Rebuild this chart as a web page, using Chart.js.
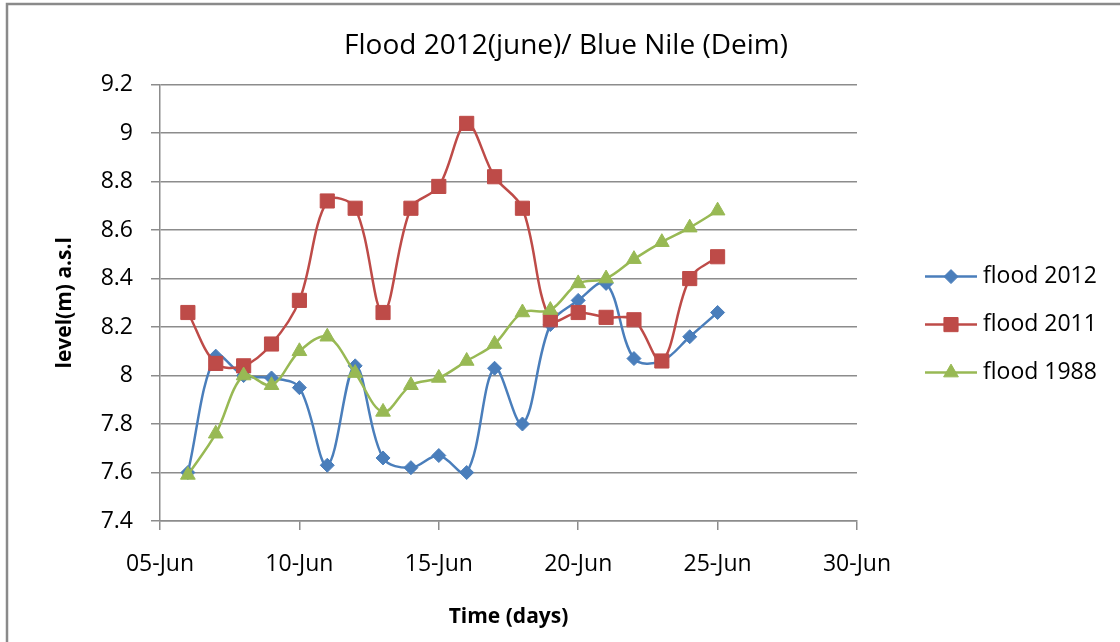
<!DOCTYPE html>
<html>
<head>
<meta charset="utf-8">
<script src="https://cdn.jsdelivr.net/npm/chart.js@4.4.0/dist/chart.umd.min.js"></script>
<style>
  body { margin: 0; background: #fff; }
  #wrap { width: 1120px; height: 642px; }
</style>
</head>
<body>
<div id="wrap"><canvas id="flood-chart" width="1120" height="642"></canvas></div>
<script>
// day of June for each reading
const days = [6, 7, 8, 9, 10, 11, 12, 13, 14, 15, 16, 17, 18, 19, 20, 21, 22, 23, 24, 25];

const flood2012 = [7.60, 8.08, 8.00, 7.99, 7.95, 7.63, 8.04, 7.66, 7.62, 7.67,
                   7.60, 8.03, 7.80, 8.21, 8.31, 8.38, 8.07, 8.06, 8.16, 8.26];
const flood2011 = [8.26, 8.05, 8.04, 8.13, 8.31, 8.72, 8.69, 8.26, 8.69, 8.78,
                   9.04, 8.82, 8.69, 8.23, 8.26, 8.24, 8.23, 8.06, 8.40, 8.49];
const flood1988 = [7.59, 7.76, 8.00, 7.96, 8.10, 8.16, 8.01, 7.85, 7.96, 7.99,
                   8.06, 8.13, 8.26, 8.27, 8.38, 8.40, 8.48, 8.55, 8.61, 8.68];

const xTickDays = [5, 10, 15, 20, 25, 30];
const xTickLabels = ['05-Jun', '10-Jun', '15-Jun', '20-Jun', '25-Jun', '30-Jun'];
const yTickValues = [7.4, 7.6, 7.8, 8.0, 8.2, 8.4, 8.6, 8.8, 9.0, 9.2];
const yTickLabels = ['7.4', '7.6', '7.8', '8', '8.2', '8.4', '8.6', '8.8', '9', '9.2'];

const gridColor = '#8c8c8c';
const font = 'Open Sans';

function toPoints(values) {
  return days.map((d, i) => ({ x: d, y: values[i] }));
}

// frame around the whole chart (Excel style)
const framePlugin = {
  id: 'frame',
  beforeDraw(chart) {
    const ctx = chart.ctx;
    ctx.save();
    ctx.strokeStyle = '#8a8a8a';
    ctx.lineWidth = 2.5;
    ctx.strokeRect(7, 4, 1300, 800);
    ctx.restore();
  }
};

// legend box on the right: line with marker, then the label
const sideLegend = {
  id: 'sideLegend',
  beforeInit(chart) {
    const box = {
      position: 'right',
      weight: 0,
      fullSize: false,
      options: {},
      top: 0, left: 0, right: 0, bottom: 0, width: 0, height: 0,
      isHorizontal() { return false; },
      getPadding() { return { top: 0, left: 0, right: 0, bottom: 0 }; },
      update(maxWidth, maxHeight) {
        this.width = 263;
        this.height = maxHeight;
      },
      draw() {
        const ctx = chart.ctx;
        ctx.save();
        chart.data.datasets.forEach((ds, i) => {
          const y = this.top + 192 + i * 48;
          const x0 = this.left + 68;
          ctx.strokeStyle = ds.borderColor;
          ctx.lineWidth = ds.borderWidth;
          ctx.beginPath();
          ctx.moveTo(x0, y);
          ctx.lineTo(x0 + 52, y);
          ctx.stroke();
          ctx.fillStyle = ds.pointBackgroundColor;
          ctx.strokeStyle = ds.pointBorderColor;
          ctx.lineWidth = 1;
          Chart.helpers.drawPoint(ctx, {
            pointStyle: ds.pointStyle, radius: ds.pointRadius, borderWidth: 1, rotation: 0
          }, x0 + 26, y);
          ctx.fillStyle = '#000';
          ctx.font = '23px "' + font + '"';
          ctx.textBaseline = 'middle';
          ctx.textAlign = 'left';
          ctx.fillText(ds.label, x0 + 58, y);
        });
        ctx.restore();
      }
    };
    Chart.layouts.addBox(chart, box);
  }
};

new Chart(document.getElementById('flood-chart'), {
  type: 'line',
  data: {
    datasets: [
      {
        label: 'flood 2012',
        data: toPoints(flood2012),
        borderColor: '#4a7ebb',
        borderWidth: 2.5,
        pointStyle: 'rectRot',
        pointRadius: 7,
        pointBackgroundColor: '#4a7ebb',
        pointBorderColor: '#4a7ebb',
        pointBorderWidth: 1,
        tension: 0.35,
        order: 3
      },
      {
        label: 'flood 2011',
        data: toPoints(flood2011),
        borderColor: '#be4b48',
        borderWidth: 2.5,
        pointStyle: 'rect',
        pointRadius: 10,
        pointBackgroundColor: '#be4b48',
        pointBorderColor: '#be4b48',
        pointBorderWidth: 1,
        tension: 0.35,
        order: 2
      },
      {
        label: 'flood 1988',
        data: toPoints(flood1988),
        borderColor: '#98b954',
        borderWidth: 2.5,
        pointStyle: 'triangle',
        pointRadius: 8.5,
        pointBackgroundColor: '#98b954',
        pointBorderColor: '#98b954',
        pointBorderWidth: 1,
        tension: 0.35,
        order: 1
      }
    ]
  },
  options: {
    responsive: false,
    animation: false,
    layout: { padding: { left: 12, right: 0, top: 0, bottom: 0 } },
    plugins: {
      legend: { display: false },
      tooltip: { enabled: false },
      title: {
        display: true,
        text: 'Flood 2012(june)/ Blue Nile (Deim)',
        color: '#000',
        font: { family: font, size: 28, weight: 'normal' },
        padding: { top: 29, bottom: 22 }
      }
    },
    scales: {
      x: {
        type: 'linear',
        min: 5,
        max: 30,
        afterBuildTicks(scale) {
          scale.ticks = xTickDays.map(v => ({ value: v }));
        },
        afterFit(scale) { scale.height = 121; },
        ticks: {
          padding: 21,
          color: '#000',
          font: { family: font, size: 23 },
          maxRotation: 0,
          callback: (value, index) => xTickLabels[index]
        },
        grid: {
          drawOnChartArea: false,
          drawTicks: true,
          tickLength: 9,
          color: gridColor,
          lineWidth: 1.5
        },
        border: { display: true, color: gridColor, width: 1.5 },
        title: {
          display: true,
          text: 'Time (days)',
          color: '#000',
          font: { family: font, size: 21, weight: 'bold' },
          padding: { top: 0, bottom: 12 }
        }
      },
      y: {
        min: 7.4,
        max: 9.2,
        afterBuildTicks(scale) {
          scale.ticks = yTickValues.map(v => ({ value: v }));
        },
        afterFit(scale) { scale.width = 148; },
        ticks: {
          padding: 18,
          color: '#000',
          font: { family: font, size: 23 },
          callback: (value, index) => yTickLabels[index]
        },
        grid: {
          tickLength: 9,
          color: gridColor,
          lineWidth: 1.5
        },
        border: { display: true, color: gridColor, width: 1.5 },
        title: {
          display: true,
          text: 'level(m) a.s.l',
          color: '#000',
          font: { family: font, size: 21, weight: 'bold' },
          padding: { top: 40, bottom: 0 }
        }
      }
    }
  },
  plugins: [framePlugin, sideLegend]
});
</script>
</body>
</html>
